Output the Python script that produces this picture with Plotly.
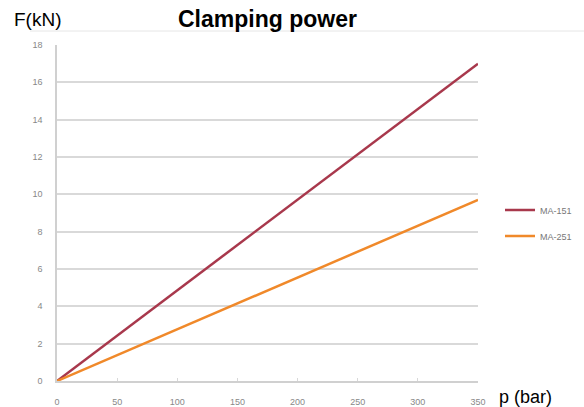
import plotly.graph_objects as go

pressure = [0, 350]
ma151 = [0, 17.0]
ma251 = [0, 9.7]
series_names = ["MA-151", "MA-251"]
colors = ["#A8384C", "#F0892A"]
x_ticks = [0, 50, 100, 150, 200, 250, 300, 350]
y_ticks = [0, 2, 4, 6, 8, 10, 12, 14, 16, 18]

W, H = 584, 407
l, r, t, b = 57, 106, 45, 26
pw, ph = W - l - r, H - t - b


def px_x(px):
    return (px - l) / pw


def px_y(py):
    return (H - b - py) / ph


fig = go.Figure()
for name, vals, c in zip(series_names, [ma151, ma251], colors):
    fig.add_trace(go.Scatter(x=pressure, y=vals, mode="lines", name=name,
                             legendgroup=name,
                             line=dict(color=c, width=2.5)))

fig.update_layout(
    width=W, height=H,
    margin=dict(l=l, r=r, t=t, b=b, autoexpand=False),
    plot_bgcolor="white", paper_bgcolor="white",
    font=dict(family="Liberation Sans, Arial", color="#333"),
    showlegend=True,
    legend=dict(x=px_x(500), y=px_y(223), xanchor="left", yanchor="middle",
                font=dict(size=9, color="#777"), itemwidth=30,
                tracegroupgap=7, bgcolor="rgba(0,0,0,0)"),
    xaxis=dict(range=[0, 350], tickvals=x_ticks, showgrid=False,
               zeroline=False, showline=True, linecolor="#d0d0d0",
               linewidth=1.5, ticks="inside", ticklen=3, tickcolor="#d8d8d8",
               ticklabelstandoff=11,
               tickfont=dict(size=9, color="#888"), fixedrange=True),
    yaxis=dict(range=[0, 18], tickvals=y_ticks, showgrid=True,
               gridcolor="#d9d9d9", gridwidth=1.5, zeroline=False,
               showline=True, linecolor="#d0d0d0", linewidth=1.5,
               ticks="outside", ticklen=11, tickcolor="rgba(0,0,0,0)",
               tickfont=dict(size=9, color="#888"), fixedrange=True),
    annotations=[
        dict(text="<b>Clamping power</b>", x=px_x(267.5), y=px_y(19),
             xref="paper", yref="paper", yanchor="middle",
             showarrow=False, font=dict(size=23, color="black")),
        dict(text="F(kN)", x=px_x(12), y=px_y(19), xref="paper", yref="paper",
             xanchor="left", yanchor="middle", showarrow=False,
             font=dict(size=19, color="black")),
        dict(text="p (bar)", x=px_x(497), y=px_y(397), xref="paper", yref="paper",
             xanchor="left", yanchor="middle", showarrow=False,
             font=dict(size=18, color="black")),
    ],
)
fig.add_shape(type="line", xref="paper", yref="paper",
              x0=px_x(30), x1=px_x(584), y0=px_y(31), y1=px_y(31),
              line=dict(color="#e6e6e6", width=1))

fig.write_html("out.html", config={"displayModeBar": False},
               post_script="document.body.style.margin='0';")
